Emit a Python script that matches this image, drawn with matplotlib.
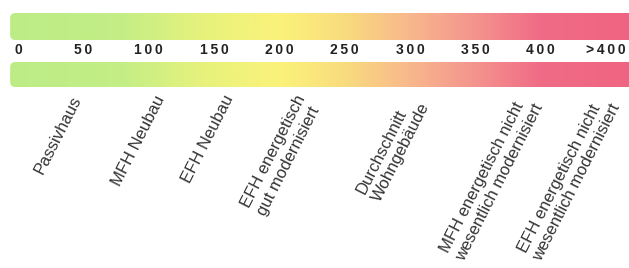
import numpy as np
import matplotlib
matplotlib.use("Agg")
import matplotlib.pyplot as plt
from matplotlib.colors import LinearSegmentedColormap
from matplotlib.patches import FancyBboxPatch

# ---- data ----
tick_values = [0, 50, 100, 150, 200, 250, 300, 350, 400, 450]
tick_labels = ["0", "50", "100", "150", "200", "250", "300", "350", "400", ">400"]

categories = [
    "Passivhaus",
    "MFH Neubau",
    "EFH Neubau",
    "EFH energetisch\ngut modernisiert",
    "Durchschnitt\nWohngebäude",
    "MFH energetisch nicht\nwesentlich modernisiert",
    "EFH energetisch nicht\nwesentlich modernisiert",
]
category_values = [40, 104, 157, 212, 295, 382, 441]

gradient_values = [-6, 80, 140, 200, 250, 300, 350, 400, 470]
gradient_colors = ["#bdec86", "#c4ee86", "#e6f27c", "#fbf27a", "#f9dc7e",
                   "#f8b88c", "#f4948e", "#f06c86", "#ef6482"]

# ---- layout ----
W, H = 629, 268
fig = plt.figure(figsize=(W / 100, H / 100), dpi=100)
ax = fig.add_axes([0, 0, 1, 1])
px_per_unit = 1.307
x0_px = 18
ax.set_xlim((0 - x0_px) / px_per_unit, (W - x0_px) / px_per_unit)
ax.set_ylim(H, 0)
ax.axis("off")

vmin, vmax = gradient_values[0], gradient_values[-1]
stops = [((v - vmin) / (vmax - vmin), c) for v, c in zip(gradient_values, gradient_colors)]
cmap = LinearSegmentedColormap.from_list("energy", stops)
grad = np.linspace(0, 1, 600).reshape(1, -1)

for (ytop, ybot) in [(13, 40), (62, 87)]:
    patch = FancyBboxPatch((vmin, ytop), vmax - vmin + 20, ybot - ytop,
                           boxstyle="round,pad=0,rounding_size=4",
                           mutation_aspect=px_per_unit,
                           facecolor="none", edgecolor="none")
    ax.add_patch(patch)
    im = ax.imshow(grad, cmap=cmap, aspect="auto",
                   extent=[vmin, vmax, ybot, ytop], interpolation="bicubic")
    im.set_clip_path(patch)

thin = "\u2009"
for v, lab in zip(tick_values, tick_labels):
    ax.text(v, 50.5, thin.join(lab), ha="center", va="center",
            fontsize=10, fontweight="bold", color="#222222",
            family=["Liberation Sans", "DejaVu Sans"])

for v, lab in zip(category_values, categories):
    ax.text(v, 93, lab, ha="right", va="top", rotation=63,
            rotation_mode="anchor", multialignment="left",
            fontsize=12, color="#333333", linespacing=1.2,
            family=["Liberation Sans", "DejaVu Sans"])

fig.savefig("out.png", dpi=100, facecolor="white")
